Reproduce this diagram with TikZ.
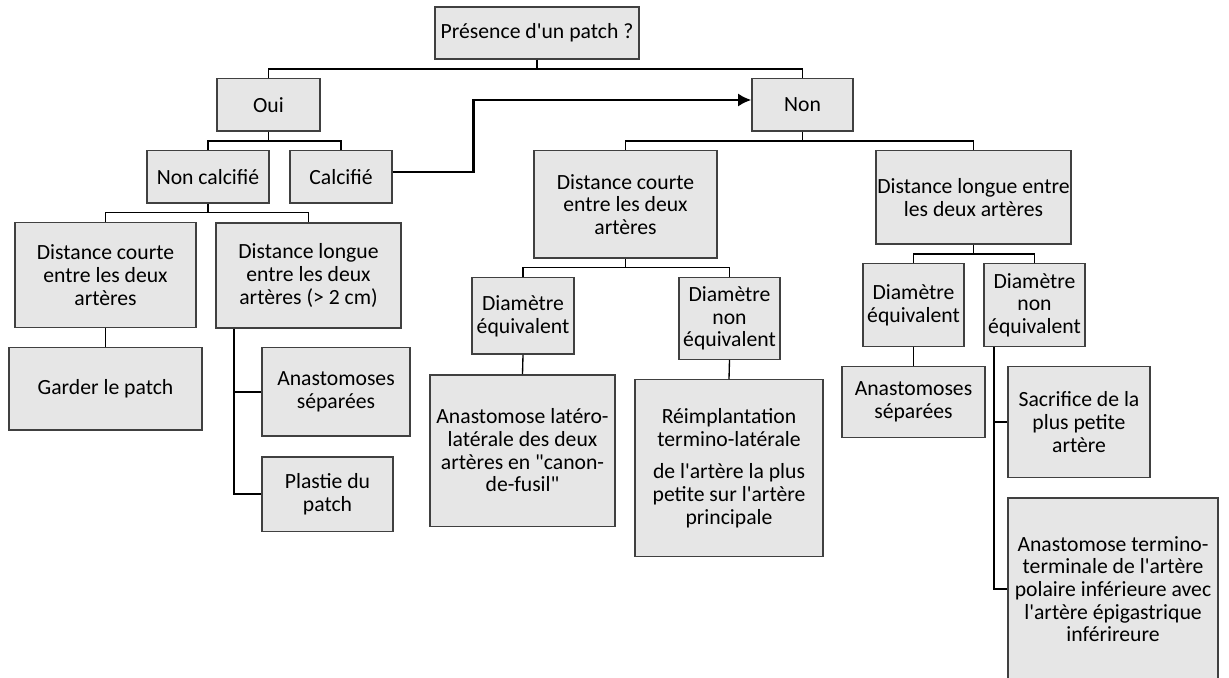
\documentclass[tikz,border=0pt]{standalone}
\usepackage{tikz}
\usetikzlibrary{arrows.meta}
\usepackage{fontspec}
\setmainfont{Carlito}[Ligatures=TeXOff]

\definecolor{boxfill}{HTML}{E6E6E6}
\definecolor{boxline}{HTML}{404040}

\tikzset{
	box/.style={draw=boxline, fill=boxfill, line width=0.8pt, align=center,
		inner sep=0pt, font=\fontsize{13}{13.6}\selectfont},
	link/.style={line width=0.8pt},
}

\begin{document}
\begin{tikzpicture}[x=0.6pt, y=-0.6pt]
		% the page
		\fill[white] (0,0) rectangle (1229,678);
		\useasboundingbox (0,0) rectangle (1229,678);
	
		% the question and the two answers
		\node[box, minimum width=122.4pt, minimum height=31.2pt] (root) at (537,33) {Présence d'un patch ?};
		\node[box, minimum width=61.8pt, minimum height=31.4pt] (oui) at (268.5,105) {Oui};
		\node[box, minimum width=60.6pt, minimum height=31.4pt] (non) at (802.5,105) {Non};
	
		% the left branch
		\node[box, minimum width=73.2pt, minimum height=31.4pt] (noncalc) at (208,177) {Non calcifié};
		\node[box, minimum width=61.2pt, minimum height=31.4pt] (calc) at (341,177) {Calcifié};
		\node[box, minimum width=108.6pt, minimum height=62.8pt] (courteA) at (105.5,275) {Distance courte\\ entre les deux\\ artères};
		\node[box, minimum width=111pt, minimum height=63pt] (longueA) at (308.5,275.5) {Distance longue\\ entre les deux\\ artères (> 2 cm)};
		\node[box, minimum width=115.8pt, minimum height=49.4pt] (garder) at (105.5,389) {Garder le patch};
		\node[box, minimum width=88.8pt, minimum height=53pt] (anastA) at (336,392) {Anastomoses\\ séparées};
		\node[box, minimum width=78.6pt, minimum height=44.6pt] (plastie) at (327.5,494) {Plastie du\\ patch};
	
		% the right branch
		\node[box, minimum width=109.8pt, minimum height=64.4pt] (courteB) at (625.5,204.5) {Distance courte\\ entre les deux\\ artères};
		\node[box, minimum width=117pt, minimum height=56pt] (longueB) at (973.5,197.5) {Distance longue entre\\ les deux artères};
		\node[box, minimum width=61.2pt, minimum height=45.8pt] (diamEqB) at (523,316) {Diamètre\\ équivalent};
		\node[box, minimum width=60.6pt, minimum height=49pt] (diamNonB) at (729.5,318.5) {Diamètre\\ non\\ équivalent};
		\node[box, minimum width=111pt, minimum height=90.8pt] (lateral) at (522.5,450.5) {Anastomose latéro-\\ latérale des deux\\ artères en "canon-\\ de-fusil"};
		\node[box, minimum width=112.8pt, minimum height=106pt] (reimpl) at (729,468) {Réimplantation\\ termino-latérale\\[6pt] de l'artère la plus\\ petite sur l'artère\\ principale};
		\node[box, minimum width=60.6pt, minimum height=49.8pt] (diamEqC) at (913.5,305) {Diamètre\\ équivalent};
		\node[box, minimum width=60.6pt, minimum height=49.8pt] (diamNonC) at (1034.5,305) {Diamètre\\ non\\ équivalent};
		\node[box, minimum width=85.8pt, minimum height=42.2pt] (anastC) at (913.5,402) {Anastomoses\\ séparées};
		\node[box, minimum width=85.2pt, minimum height=66.6pt] (sacr) at (1079,422) {Sacrifice de la\\ plus petite\\ artère};
		\node[box, minimum width=126pt, minimum height=109.2pt] (termino) at (1113,589) {Anastomose termino-\\ terminale de l'artère\\ polaire inférieure avec\\ l'artère épigastrique\\ inférireure};
	
		% the tree lines
		\draw[link] (root.south) -- ++(0,9.3) -| (oui.north);
		\draw[link] (root.south) -- ++(0,9.3) -| (non.north);
		\draw[link] (oui.south) -- ++(0,9.3) -| (noncalc.north);
		\draw[link] (oui.south) -- ++(0,9.3) -| (calc.north);
		\draw[link] (noncalc.south) -- ++(0,9) -| (courteA.north);
		\draw[link] (noncalc.south) -- ++(0,9) -| (longueA.north);
		\draw[link] (courteA.south) -- (garder.north);
		\draw[link] (longueA.south) ++(-74.5,0) |- (anastA.west);
		\draw[link] (longueA.south) ++(-74.5,0) |- (plastie.west);
	
		\draw[link] (non.south) -- ++(0,9.3) -| (courteB.north);
		\draw[link] (non.south) -- ++(0,9.3) -| (longueB.north);
		\draw[link] (courteB.south) -- ++(0,9) -| (diamEqB.north);
		\draw[link] (courteB.south) -- ++(0,9) -| (diamNonB.north);
		\draw[link] (diamEqB.south) -- (lateral.north);
		\draw[link] (diamNonB.south) -- (reimpl.north);
		\draw[link] (longueB.south) -- ++(0,9.3) -| (diamEqC.north);
		\draw[link] (longueB.south) -- ++(0,9.3) -| (diamNonC.north);
		\draw[link] (diamEqC.south) -- (anastC.north);
		\draw[link] (diamNonC.south) ++(-40.5,0) |- (sacr.west);
		\draw[link] (diamNonC.south) ++(-40.5,0) |- (termino.west);
	
		% the jump from calcified to no patch
		\draw[-{Latex[length=8pt,width=8pt]}, line width=1.6pt] ([yshift=3pt]calc.east) -- ++(81,0) |- ([yshift=3pt]non.west);
	
	\end{tikzpicture}
\end{document}
